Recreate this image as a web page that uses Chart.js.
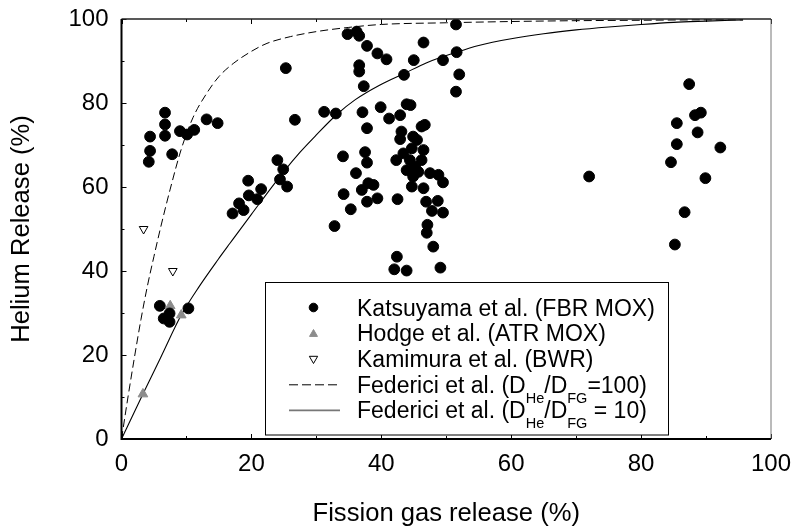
<!DOCTYPE html>
<html lang="en">
<head>
<meta charset="UTF-8">
<title>Helium release vs fission gas release</title>
<script src="https://cdn.jsdelivr.net/npm/chart.js"></script>
<style>
  html, body { margin: 0; padding: 0; background: #fff; }
  #wrap { width: 795px; height: 532px; }
</style>
</head>
<body>
<div id="wrap"><canvas id="heChart" width="795" height="532"></canvas></div>
<script>
// Katsuyama et al. (FBR MOX): fission gas release (%) / helium release (%)
const katsuyamaFgr = [4.4, 4.4, 4.2, 6.7, 6.7, 6.7, 7.8, 9.0, 10.1, 11.2, 13.1, 14.8,
  5.9, 6.5, 7.4, 7.4, 10.3,
  17.1, 18.1, 18.8, 19.5, 19.6, 20.9, 21.5, 24.0, 24.9, 24.4, 25.5, 25.3, 26.7, 31.2, 33.0, 32.8,
  34.8, 36.2, 36.6, 37.8, 39.4, 40.8, 36.6, 36.6, 37.3, 43.5, 45.0, 46.5, 49.5, 51.5, 51.6, 52.0, 51.5,
  37.1, 39.9, 43.9, 44.5, 42.9, 41.2, 37.8, 46.7, 46.2, 43.1, 42.9, 44.9, 45.5,
  34.1, 37.5, 37.8, 36.1, 34.2, 37.0, 38.0, 38.8, 37.8, 39.4, 35.3, 42.5,
  46.9, 48.7, 47.8, 49.5, 47.1, 47.0, 48.0, 42.4, 42.0, 43.9, 49.1, 47.5, 48.8, 49.5,
  46.5, 42.3, 43.4, 44.4, 45.2, 44.9, 44.7, 46.5, 45.7, 43.9, 46.2, 44.7,
  72.0, 87.4, 88.3, 89.2, 85.5, 88.7, 85.5, 92.2, 84.6, 89.9, 86.7, 85.2];
const katsuyamaHe = [72.0, 68.6, 66.0, 77.7, 74.9, 72.2, 67.8, 73.3, 72.5, 73.6, 76.1, 75.2,
  31.7, 28.7, 27.9, 29.9, 31.1,
  53.7, 56.1, 54.5, 61.5, 58.0, 57.1, 59.5, 66.4, 64.2, 61.8, 60.1, 88.3, 76.0, 77.9, 77.5, 50.7,
  96.4, 97.0, 96.0, 93.6, 91.8, 90.4, 89.0, 87.5, 84.0, 86.7, 90.2, 94.4, 90.2, 98.7, 92.1, 86.8, 82.7,
  77.8, 79.0, 79.7, 79.5, 77.1, 76.3, 74.0, 74.8, 74.4, 73.2, 71.4, 72.0, 71.2,
  67.3, 68.3, 65.8, 63.3, 58.3, 59.3, 60.9, 60.5, 56.5, 57.3, 54.7, 57.1,
  56.5, 56.7, 54.3, 53.9, 51.0, 49.1, 45.8, 43.4, 40.4, 40.1, 40.8, 63.3, 62.9, 61.1,
  68.8, 66.4, 68.0, 66.4, 64.8, 62.5, 60.1, 59.7, 63.6, 64.0, 66.4, 69.2,
  62.5, 84.5, 77.1, 77.7, 75.2, 73.0, 70.2, 69.4, 65.9, 62.1, 54.0, 46.3];

// Hodge et al. (ATR MOX)
const hodgeFgr = [3.3, 7.5, 9.2];
const hodgeHe = [10.7, 31.7, 29.5];

// Kamimura et al. (BWR)
const kamimuraFgr = [3.4, 7.9];
const kamimuraHe = [50.0, 40.0];

// Federici et al. model curves, D_He/D_FG = 100 and = 10
const fed100Fgr = [0, 1, 2, 3, 4, 5, 6, 7.5, 9.2, 11, 13.2, 15, 17.2, 20, 22.4, 26, 30, 35, 40, 50, 60, 70, 80, 90, 95.7];
const fed100He = [0, 10, 19.5, 28.5, 36.5, 43.5, 50.2, 59.5, 69, 76.5, 82.5, 86.3, 89.4, 92.3, 94.2, 95.8, 97.0, 98.0, 98.7, 99.1, 99.4, 99.6, 99.7, 99.8, 99.8];
const fed10Fgr = [0, 3.3, 6, 9.2, 12, 14.9, 16.7, 20, 24.9, 27.5, 30, 33.1, 36, 39.8, 43.5, 47, 51.6, 55, 60, 65, 70, 75, 80, 85, 90, 95.7];
const fed10He = [0, 10.7, 19.3, 29.5, 36.4, 42.8, 46.6, 53.5, 63.5, 68.3, 72.4, 77.2, 80.8, 84.3, 87.0, 89.6, 92.1, 93.7, 95.3, 96.5, 97.4, 98.1, 98.7, 99.2, 99.5, 99.8];

const axisTicks = [0, 10, 20, 30, 40, 50, 60, 70, 80, 90, 100];

const FONT = '"Liberation Sans", Arial, Helvetica, sans-serif';
const pts = (xs, ys) => xs.map((x, i) => ({x: x, y: ys[i]}));

// box around the plot with short inward ticks
const frame = {
  id: 'frame',
  afterDatasetsDraw(chart) {
    const {ctx, chartArea: a, scales: {x, y}} = chart;
    ctx.save();
    ctx.lineCap = 'butt';
    ctx.strokeStyle = '#000';
    ctx.lineWidth = 1;
    ctx.beginPath();
    axisTicks.forEach(v => {
      const len = v % 20 === 0 ? 5 : 3;
      const px = Math.round(x.getPixelForValue(v)) + 0.5;
      const py = Math.round(y.getPixelForValue(v)) + 0.5;
      ctx.moveTo(px, a.bottom); ctx.lineTo(px, a.bottom - len);
      ctx.moveTo(px, a.top); ctx.lineTo(px, a.top + len);
      ctx.moveTo(a.left, py); ctx.lineTo(a.left + len, py);
    });
    ctx.stroke();

    ctx.strokeStyle = '#777';
    ctx.lineWidth = 1;
    ctx.beginPath();
    ctx.moveTo(a.right, a.top); ctx.lineTo(a.right, a.bottom);
    ctx.stroke();

    ctx.strokeStyle = '#222';
    ctx.lineWidth = 1.5;
    ctx.beginPath();
    ctx.moveTo(a.left, a.top); ctx.lineTo(a.right, a.top);
    ctx.stroke();

    ctx.strokeStyle = '#000';
    ctx.lineWidth = 2;
    ctx.beginPath();
    ctx.moveTo(a.left, a.top); ctx.lineTo(a.left, a.bottom + 1);
    ctx.moveTo(a.left - 1, a.bottom); ctx.lineTo(a.right, a.bottom);
    ctx.stroke();
    ctx.restore();
  }
};

// legend with subscripted ratio labels
const legendBox = {
  id: 'legendBox',
  afterDatasetsDraw(chart) {
    const ctx = chart.ctx;
    const bx = 265.5, by = 282.5, bw = 403, bh = 152.5;
    ctx.save();
    ctx.fillStyle = '#fff';
    ctx.fillRect(bx, by, bw, bh);
    ctx.strokeStyle = '#000';
    ctx.lineWidth = 1;
    ctx.strokeRect(bx, by, bw, bh);

    const mx = 313.5, tx = 357, row0 = 307.5, step = 25.6;
    const rows = [
      {mark: 'circle', label: [['Katsuyama et al. (FBR MOX)']]},
      {mark: 'tri', label: [['Hodge et al. (ATR MOX)']]},
      {mark: 'otri', label: [['Kamimura et al. (BWR)']]},
      {mark: 'dash', label: [['Federici et al. (D'], ['He', 1], ['/D'], ['FG', 1], ['=100)']]},
      {mark: 'line', label: [['Federici et al. (D'], ['He', 1], ['/D'], ['FG', 1], [' = 10)']]}
    ];
    rows.forEach((r, i) => {
      const cy = row0 + i * step;
      ctx.save();
      if (r.mark === 'circle') {
        ctx.fillStyle = '#000'; ctx.strokeStyle = '#000';
        Chart.helpers.drawPoint(ctx, {pointStyle: 'circle', radius: 4.3, borderWidth: 1, rotation: 0}, mx, cy);
      } else if (r.mark === 'tri') {
        ctx.fillStyle = '#8c8c8c'; ctx.strokeStyle = '#8c8c8c';
        Chart.helpers.drawPoint(ctx, {pointStyle: 'triangle', radius: 4.6, borderWidth: 1, rotation: 0}, mx, cy + 1);
      } else if (r.mark === 'otri') {
        ctx.fillStyle = '#fff'; ctx.strokeStyle = '#000';
        Chart.helpers.drawPoint(ctx, {pointStyle: 'triangle', radius: 4.8, borderWidth: 1, rotation: 180}, mx, cy);
      } else {
        ctx.beginPath();
        ctx.lineWidth = r.mark === 'dash' ? 1 : 1.6;
        ctx.strokeStyle = r.mark === 'dash' ? '#000' : '#777';
        ctx.setLineDash(r.mark === 'dash' ? [9, 4] : []);
        ctx.moveTo(289, cy + 0.5); ctx.lineTo(340, cy + 0.5);
        ctx.stroke();
      }
      ctx.restore();

      let x = tx;
      ctx.fillStyle = '#000';
      ctx.textBaseline = 'alphabetic';
      ctx.textAlign = 'left';
      r.label.forEach(([t, sub]) => {
        ctx.font = (sub ? '14.5px ' : '23px ') + FONT;
        ctx.fillText(t, x, cy + 8.3 + (sub ? 10 : 0));
        x += ctx.measureText(t).width;
      });
    });
    ctx.restore();
  }
};

new Chart(document.getElementById('heChart'), {
  type: 'scatter',
  data: {
    datasets: [
      {
        label: 'Katsuyama et al. (FBR MOX)',
        data: pts(katsuyamaFgr, katsuyamaHe),
        pointStyle: 'circle', pointRadius: 5.4, pointBorderWidth: 1,
        backgroundColor: '#000', borderColor: '#000'
      },
      {
        label: 'Hodge et al. (ATR MOX)',
        data: pts(hodgeFgr, hodgeHe),
        pointStyle: 'triangle', pointRadius: 5.6, pointBorderWidth: 1,
        backgroundColor: '#8c8c8c', borderColor: '#8c8c8c'
      },
      {
        label: 'Kamimura et al. (BWR)',
        data: pts(kamimuraFgr, kamimuraHe),
        pointStyle: 'triangle', pointRotation: 180, pointRadius: 5, pointBorderWidth: 1,
        backgroundColor: '#fff', borderColor: '#000'
      },
      {
        label: 'Federici et al. (DHe/DFG=100)',
        data: pts(fed100Fgr, fed100He),
        showLine: true, pointRadius: 0, borderWidth: 1, borderDash: [8, 4],
        borderColor: '#000', cubicInterpolationMode: 'monotone'
      },
      {
        label: 'Federici et al. (DHe/DFG = 10)',
        data: pts(fed10Fgr, fed10He),
        showLine: true, pointRadius: 0, borderWidth: 1.1,
        borderColor: '#000', cubicInterpolationMode: 'monotone'
      }
    ]
  },
  options: {
    responsive: false,
    animation: false,
    layout: { padding: { left: 0, right: 24, top: 19, bottom: 0 } },
    plugins: { legend: { display: false }, tooltip: { enabled: false } },
    scales: {
      x: {
        type: 'linear', min: 0, max: 100,
        grid: { display: false, drawTicks: false },
        border: { display: false },
        ticks: { stepSize: 20, padding: 11, maxRotation: 0, color: '#000', font: { family: FONT, size: 24 } },
        title: { display: true, text: 'Fission gas release (%)', color: '#000',
                 font: { family: FONT, size: 25.6 }, padding: { top: 0, bottom: 3 } },
        afterFit(s) { s.height = 93; s.paddingLeft = 0; s.paddingRight = 0; }
      },
      y: {
        type: 'linear', min: 0, max: 100,
        grid: { display: false, drawTicks: false },
        border: { display: false },
        ticks: { stepSize: 20, padding: 13, color: '#000', font: { family: FONT, size: 24 } },
        title: { display: true, text: 'Helium Release (%)', color: '#000',
                 font: { family: FONT, size: 25.6 }, padding: { top: 7, bottom: 0 } },
        afterFit(s) { s.width = 121.5; s.paddingTop = 0; s.paddingBottom = 0; }
      }
    }
  },
  plugins: [frame, legendBox]
});
</script>
</body>
</html>
